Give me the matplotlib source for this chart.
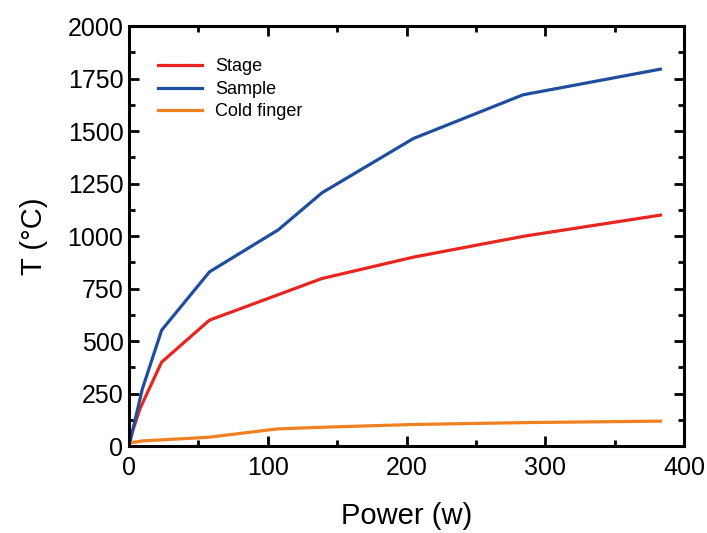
import matplotlib
matplotlib.use("Agg")
import matplotlib.pyplot as plt
from matplotlib.ticker import MultipleLocator

power_stage = [0, 8, 23.5, 58, 139, 205, 285, 383]
temp_stage = [20, 180, 400, 600, 798, 900, 1000, 1100]

power_sample = [0, 9.5, 23.5, 58, 107.6, 139, 205, 284, 383]
temp_sample = [0, 270, 552, 830, 1030, 1206, 1465, 1673, 1795]

power_cold = [0, 10, 57, 107, 140, 205, 285, 383]
temp_cold = [15, 25, 42, 82, 90, 103, 112, 119]

plt.rcParams['font.family'] = ['Liberation Sans', 'DejaVu Sans']

fig = plt.figure(figsize=(7.07, 5.33), dpi=100)
ax = fig.add_axes([0.1825, 0.163, 0.785, 0.788])

ax.plot(power_stage, temp_stage, color='#E8251F', lw=2.3, label='Stage')
ax.plot(power_sample, temp_sample, color='#1F4E9E', lw=2.3, label='Sample')
ax.plot(power_cold, temp_cold, color='#F08020', lw=2.3, label='Cold finger')

ax.set_xlim(0, 400)
ax.set_ylim(0, 2000)
ax.xaxis.set_major_locator(MultipleLocator(100))
ax.xaxis.set_minor_locator(MultipleLocator(50))
ax.yaxis.set_major_locator(MultipleLocator(250))
ax.yaxis.set_minor_locator(MultipleLocator(125))
ax.tick_params(which='both', direction='in', top=True, right=True, width=2.0, labelsize=18)
ax.tick_params(axis='x', which='both', pad=7)
ax.tick_params(axis='y', which='both', pad=4)
ax.tick_params(which='major', length=7)
ax.tick_params(which='minor', length=4.5)
for s in ax.spines.values():
    s.set_linewidth(2.2)

ax.set_xlabel('Power (w)', fontsize=21, labelpad=16)
ax.set_ylabel('T (°C)', fontsize=21, labelpad=14)

leg = ax.legend(loc='upper left', frameon=False, fontsize=13, handlelength=2.45,
                handletextpad=0.72, labelspacing=0.3, borderpad=0, borderaxespad=0,
                bbox_to_anchor=(0.052, 0.923))

fig.savefig('out.png', dpi=100)
